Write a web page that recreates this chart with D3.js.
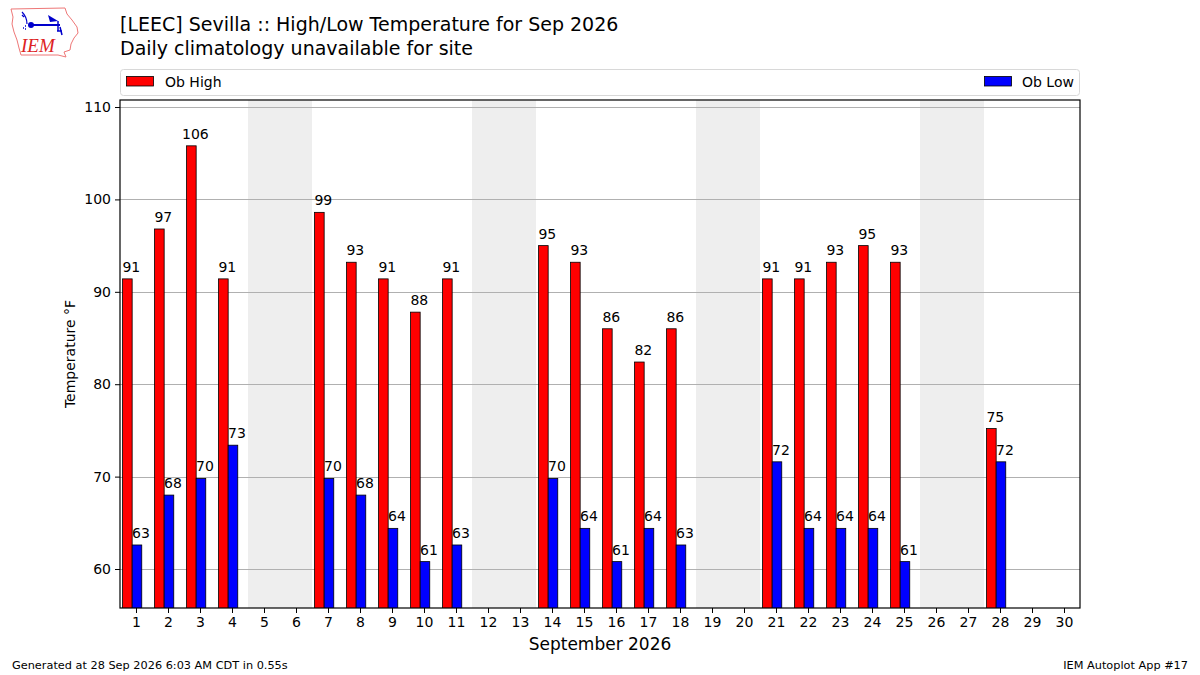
<!DOCTYPE html>
<html>
<head>
<meta charset="utf-8">
<script src="https://cdn.jsdelivr.net/npm/d3@7"></script>
<style>
  body { margin: 0; background: #fff; }
  svg { font-family: "DejaVu Sans", sans-serif; }
</style>
</head>
<body>
<svg id="chart" width="1200" height="675"></svg>
<script>
// days of the month, observed highs / lows (F), null = missing
var days = d3.range(1, 31);
var obHigh = [91.4, 96.8, 105.8, 91.4, null, null, 98.6, 93.2, 91.4, 87.8,
  91.4, null, null, 95.0, 93.2, 86.0, 82.4, 86.0, null, null,
  91.4, 91.4, 93.2, 95.0, 93.2, null, null, 75.2, null, null];
var obLow = [62.6, 68.0, 69.8, 73.4, null, null, 69.8, 68.0, 64.4, 60.8,
  62.6, null, null, 69.8, 64.4, 60.8, 64.4, 62.6, null, null,
  71.6, 64.4, 64.4, 64.4, 60.8, null, null, 71.6, null, null];
var weekends = [5, 6, 12, 13, 19, 20, 26, 27];
var yTicks = [60, 70, 80, 90, 100, 110];

var svg = d3.select('#chart');
var margin = {left: 120, right: 120, top: 100, bottom: 67};
var width = 1200 - margin.left - margin.right;
var height = 675 - margin.top - margin.bottom;

var x = d3.scaleLinear().domain([0.5, 30.5]).range([0, width]);
var y = d3.scaleLinear().domain([55.78, 110.76]).range([height, 0]);
var dayW = x(1) - x(0);

// logo
var logo = svg.append('g');
logo.append('path')
  .attr('d', 'M11,9 L65,8 L67,14 L72,20 L77,27 L78,33 L74,38 L71,44 L70,50 L64,52 L66,57 L58,55 L21,55 L19,48 L17,40 L14,32 L12,24 L13,17 Z')
  .attr('fill', 'none').attr('stroke', '#e77').attr('stroke-width', 1);
logo.append('line').attr('x1', 31).attr('y1', 25).attr('x2', 60).attr('y2', 25)
  .attr('stroke', '#00c').attr('stroke-width', 2);
logo.append('circle').attr('cx', 31).attr('cy', 25).attr('r', 3).attr('fill', '#00c');
logo.append('path').attr('d', 'M48,15 L58,21 L50,22 Z')
  .attr('fill', '#00c');
logo.append('path').attr('d', 'M58,21 L58,31 M60,27 L62,35 M57,31 L62,31')
  .attr('fill', 'none').attr('stroke', '#00c').attr('stroke-width', 1.5);
logo.append('path').attr('d', 'M22,12 Q27,17 27,24 M24,17 L22,15')
  .attr('fill', 'none').attr('stroke', '#00c').attr('stroke-width', 1.2);
logo.append('path').attr('d', 'M23,28 L24,28 M25,26 L26,26 M25,29 L26,29')
  .attr('fill', 'none').attr('stroke', '#00c').attr('stroke-width', 1.5);
logo.append('text').attr('x', 21).attr('y', 52)
  .attr('font-family', '"Liberation Serif", serif').attr('font-style', 'italic')
  .attr('font-size', 19).attr('fill', '#d22').text('IEM');

// titles
svg.append('text').attr('x', 120).attr('y', 31).attr('font-size', 19)
  .text('[LEEC] Sevilla :: High/Low Temperature for Sep 2026');
svg.append('text').attr('x', 120).attr('y', 55).attr('font-size', 19)
  .text('Daily climatology unavailable for site');

// legend
var legend = svg.append('g');
legend.append('rect').attr('x', 120.5).attr('y', 69.5).attr('width', 959).attr('height', 26)
  .attr('rx', 3).attr('fill', '#fff').attr('stroke', '#d8d8d8');
legend.append('rect').attr('x', 126.5).attr('y', 76.5).attr('width', 27).attr('height', 9.5)
  .attr('fill', 'red').attr('stroke', '#000').attr('stroke-width', 0.8);
legend.append('text').attr('x', 165).attr('y', 86.5).attr('font-size', 14).text('Ob High');
legend.append('rect').attr('x', 984.5).attr('y', 76.5).attr('width', 27).attr('height', 9.5)
  .attr('fill', 'blue').attr('stroke', '#000').attr('stroke-width', 0.8);
legend.append('text').attr('x', 1022).attr('y', 86.5).attr('font-size', 14).text('Ob Low');

var chart = svg.append('g')
  .attr('transform', `translate(${ margin.left }, ${ margin.top })`);

chart.append('defs').append('clipPath').attr('id', 'clip')
  .append('rect').attr('width', width).attr('height', height);

// weekend shading
chart.selectAll('.wk')
  .data(weekends)
  .enter().append('rect')
  .attr('class', 'wk')
  .attr('x', d => x(d - 0.5))
  .attr('y', 0)
  .attr('width', dayW)
  .attr('height', height)
  .attr('fill', '#eeeeee');

// gridlines
chart.selectAll('.grid')
  .data(yTicks)
  .enter().append('line')
  .attr('x1', 0).attr('x2', width)
  .attr('y1', d => Math.round(y(d)) + 0.5)
  .attr('y2', d => Math.round(y(d)) + 0.5)
  .attr('stroke', '#b0b0b0').attr('stroke-width', 1);

var plot = chart.append('g').attr('clip-path', 'url(#clip)');

var highs = days.map((d, i) => ({day: d, v: obHigh[i]})).filter(d => d.v !== null);
var lows = days.map((d, i) => ({day: d, v: obLow[i]})).filter(d => d.v !== null);

function drawBars(data, off, color) {
  plot.selectAll('.bar-' + color)
    .data(data)
    .enter().append('rect')
    .attr('class', 'bar-' + color)
    .attr('x', d => x(d.day + off))
    .attr('y', d => y(d.v))
    .attr('width', dayW * 0.3)
    .attr('height', d => height - y(d.v) + 2)
    .attr('fill', color)
    .attr('stroke', '#000')
    .attr('stroke-width', 0.8);

  chart.selectAll('.lbl-' + color)
    .data(data)
    .enter().append('text')
    .attr('class', 'lbl-' + color)
    .attr('x', d => x(d.day + off + 0.15) + 4)
    .attr('y', d => y(d.v) - 7)
    .attr('text-anchor', 'middle')
    .attr('font-size', 14)
    .text(d => Math.round(d.v));
}
drawBars(highs, -0.42, 'red');
drawBars(lows, -0.12, 'blue');

// axes
var xAxis = d3.axisBottom(x).tickValues(days).tickSize(5).tickPadding(4);
var yAxis = d3.axisLeft(y).tickValues(yTicks).tickSize(5).tickPadding(4);

var gx = chart.append('g')
  .attr('transform', `translate(0, ${ height })`)
  .call(xAxis);
var gy = chart.append('g').call(yAxis);
[gx, gy].forEach(g => {
  g.select('.domain').remove();
  g.selectAll('text').attr('font-size', 14).attr('font-family', '"DejaVu Sans", sans-serif').attr('fill', '#000');
  g.selectAll('line').attr('stroke', '#000');
});

chart.append('rect').attr('x', 0).attr('y', 0).attr('width', width).attr('height', height)
  .attr('fill', 'none').attr('stroke', '#000').attr('stroke-width', 1.2);

// axis labels
svg.append('text')
  .attr('transform', 'translate(75, 354) rotate(-90)')
  .attr('text-anchor', 'middle').attr('font-size', 14)
  .text('Temperature °F');
svg.append('text').attr('x', 600).attr('y', 650).attr('text-anchor', 'middle')
  .attr('font-size', 17).text('September 2026');

// footer
svg.append('text').attr('x', 12).attr('y', 669).attr('font-size', 11.3)
  .text('Generated at 28 Sep 2026 6:03 AM CDT in 0.55s');
svg.append('text').attr('x', 1188).attr('y', 669).attr('text-anchor', 'end').attr('font-size', 11.3)
  .text('IEM Autoplot App #17');
</script>
</body>
</html>
